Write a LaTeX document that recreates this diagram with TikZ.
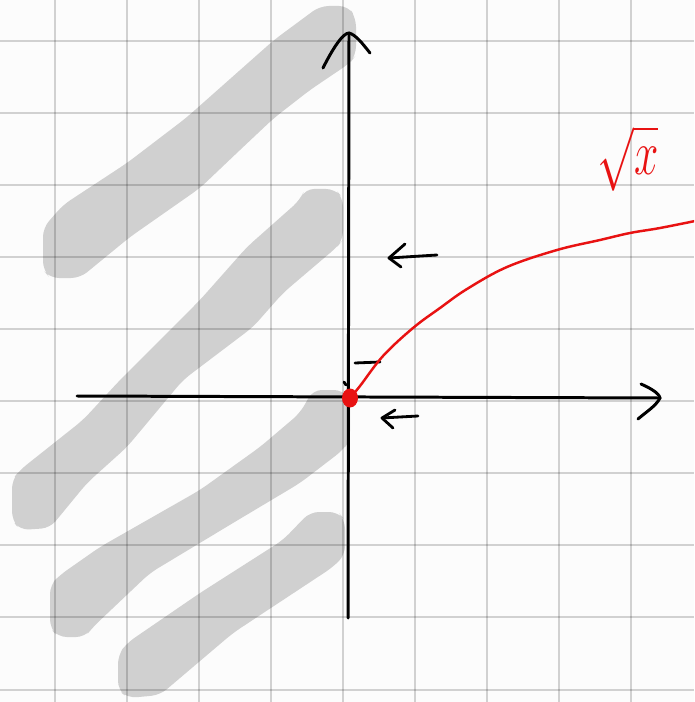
\documentclass[tikz,border=0pt]{standalone}
\usepackage{tikz}
\usetikzlibrary{calc}
\definecolor{paper}{RGB}{252,252,252}
\definecolor{smudgegray}{RGB}{208,208,208}
\definecolor{inkred}{RGB}{232,18,18}

\begin{document}
\begin{tikzpicture}[x=0.02cm, y=-0.02cm,
  gridline/.style={draw=black, draw opacity=0.17, line width=1.4pt},
  smudge/.style={fill=smudgegray, rounded corners=5pt},
  axis/.style={draw=black, line width=1.7pt, line cap=round, line join=round},
  pen/.style={draw=black, line width=1.6pt, line cap=round, line join=round},
  curve/.style={draw=inkred, line width=1.4pt, line cap=round}
]
\fill[paper] (0,0) rectangle (694,702);
\useasboundingbox (0,0) rectangle (694,702);
% shaded region
\fill[smudge] (43,228) -- (43,270) -- (50,278) -- (80,278) -- (130,237) -- (200,188) -- (240,150) -- (274,118) -- (310,90) -- (350,63) -- (356,55) -- (356,18) -- (348,6) -- (320,6) -- (274,40) -- (186,118) -- (127,163) -- (63,205) -- cycle;
\fill[smudge] (12,480) -- (12,520) -- (20,530) -- (50,528) -- (87,483) -- (127,447) -- (183,380) -- (253,327) -- (283,293) -- (337,247) -- (343,240) -- (343,198) -- (335,189) -- (305,189) -- (300,200) -- (247,247) -- (200,300) -- (150,350) -- (120,380) -- (83,420) -- (20,470) -- cycle;
\fill[smudge] (50,585) -- (50,628) -- (58,637) -- (85,637) -- (93,627) -- (150,573) -- (233,523) -- (300,483) -- (343,450) -- (350,440) -- (350,400) -- (343,390) -- (313,390) -- (300,413) -- (260,447) -- (200,490) -- (100,547) -- (60,575) -- cycle;
\fill[smudge] (118,655) -- (118,690) -- (128,698) -- (160,695) -- (233,633) -- (333,567) -- (345,555) -- (345,520) -- (338,512) -- (310,512) -- (283,540) -- (200,593) -- (127,643) -- cycle;
% grid
\foreach \gx in {55,127,199,271,343,415,487,559,631}
  \draw[gridline] (\gx,0) -- (\gx,702);
\foreach \gy in {41,113,185,257,329,401,473,545,617,690}
  \draw[gridline] (0,\gy) -- (694,\gy);
% axes
\coordinate (origin) at (350,398);
\coordinate (ytop) at (349,33);
\coordinate (ybot) at (348,618);
\coordinate (xleft) at (77,396);
\coordinate (xright) at (660,398);
\draw[axis] (ybot) -- (ytop);
\draw[axis] (323,68) .. controls (333,48) and (343,33) .. (ytop) .. controls (356,35) and (362,43) .. (370,53);
\draw[axis] (xleft) -- (xright);
\draw[axis] (641,384) .. controls (650,388) and (659,393) .. (xright) .. controls (656,406) and (646,412) .. (638,419);
% small marks
\coordinate (dashl) at (355,363);
\coordinate (dashr) at (380,362);
\draw[pen] (dashl) -- (dashr);
\draw[pen] (344,382) -- (346,385);
% arrows
\coordinate (topTail) at (437,255);
\coordinate (topTip) at (389,258);
\draw[pen] (topTail) -- (topTip);
\draw[pen] (405,244) -- (topTip) -- (401,267);
\coordinate (lowTail) at (418,416);
\coordinate (lowTip) at (382,418);
\draw[pen] (lowTail) -- (lowTip);
\draw[pen] (395,410) -- (lowTip) -- (393,428);
% sqrt curve
\begin{scope}
\clip (0,0) rectangle (694,702);
\draw[curve] plot[smooth, tension=0.6] coordinates {(350,398) (360,386) (383,356) (413,328) (440,308) (467,289) (507,267) (557,250) (600,240) (630,233) (660,228) (700,220)};
\end{scope}
\fill[inkred] (origin) ellipse [x radius=8, y radius=9.5];
\node[text=inkred, font=\fontsize{24}{28}\selectfont, inner sep=0pt] (lbl) at (628,158) {\scalebox{1}[1.45]{$\sqrt{x}$}};
\end{tikzpicture}
\end{document}
